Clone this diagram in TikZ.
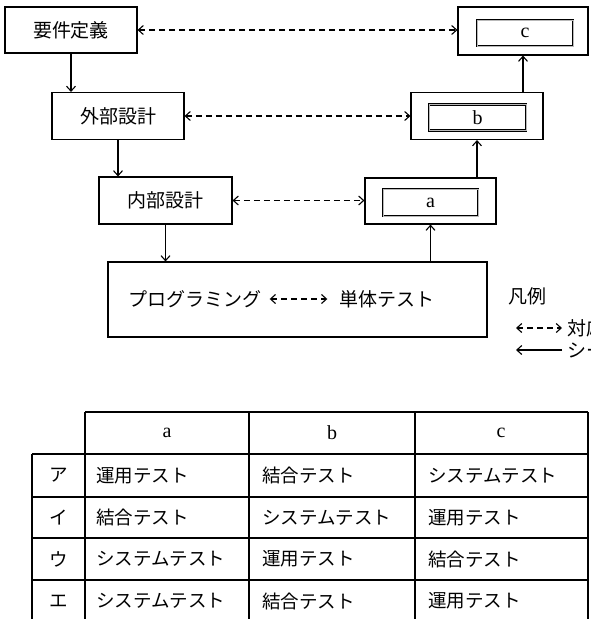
\documentclass[tikz,border=0pt]{standalone}
\usepackage{fontspec}
\newfontfamily\jp{Noto Sans CJK JP}
\newfontfamily\lat{Liberation Serif}
\usetikzlibrary{arrows.meta}
\tikzset{
  jptext/.style={font=\jp\fontsize{19}{22}\selectfont, inner sep=0pt},
  celltext/.style={font=\jp\fontsize{18.5}{22}\selectfont, inner sep=0pt},
  latintext/.style={font=\lat\fontsize{20}{22}\selectfont, inner sep=0pt},
  procbox/.style={draw, line width=1.1pt, rectangle, inner sep=0pt, font=\jp\fontsize{19}{22}\selectfont},
  innerbox/.style={draw=black, double=gray!55, double distance=0.9pt, line width=0.9pt, rectangle, inner sep=0pt, font=\lat\fontsize{20}{22}\selectfont},
  flow/.style={line width=1.1pt, -{Straight Barb[length=5pt,width=9pt,line width=1.1pt]}},
  corr/.style={line width=1.1pt, dash pattern=on 6pt off 4pt, {Straight Barb[length=5pt,width=9pt,line width=1.1pt]}-{Straight Barb[length=5pt,width=9pt,line width=1.1pt]}},
  grid/.style={line width=1.1pt},
}
\begin{document}
\begin{tikzpicture}[x=1pt,y=-1pt]
\useasboundingbox (0,0) rectangle (591,619);
\clip (0,0) rectangle (591,619);
\fill[white] (0,0) rectangle (591,619);
% process boxes
\node[procbox, minimum width=132pt, minimum height=46pt] (yk) at (71,30) {要件定義};
\node[procbox, minimum width=132pt, minimum height=47pt] (gb) at (118,116) {外部設計};
\node[procbox, minimum width=133pt, minimum height=47pt] (nb) at (165.5,200.5) {内部設計};
\node[procbox, minimum width=379pt, minimum height=75pt] (prog) at (297.5,299.5) {};
\node[jptext] (p1) at (195,299) {プログラミング};
\node[jptext] (p2) at (387,299) {単体テスト};
% test boxes
\node[procbox, minimum width=131pt, minimum height=46pt] (aout) at (430.5,201) {};
\node[innerbox, minimum width=95pt, minimum height=27pt] (ain) at (430.5,202.5) {a};
\node[procbox, minimum width=132pt, minimum height=47pt] (bout) at (477,116) {};
\node[innerbox, minimum width=97pt, minimum height=26pt] (bin) at (477.5,117.5) {b};
\node[procbox, minimum width=130pt, minimum height=48pt] (cout) at (523,31) {};
\node[innerbox, minimum width=96pt, minimum height=26pt] (cin) at (525,33) {c};
% flow arrows
\draw[flow] (yk.south) -- (yk.south |- gb.north);
\draw[flow] (gb.south) -- (gb.south |- nb.north);
\draw[flow] (nb.south) -- (nb.south |- prog.north);
\draw[flow] (aout.south |- prog.north) -- (aout.south);
\draw[flow] (bout.south |- aout.north) -- (bout.south);
\draw[flow] (cout.south |- bout.north) -- (cout.south);
% correspondence arrows
\draw[corr] (yk.east) -- (yk.east -| cout.west);
\draw[corr] (gb.east) -- (gb.east -| bout.west);
\draw[corr] (nb.east) -- (nb.east -| aout.west);
\draw[corr] ([xshift=8pt]p1.east) -- ([xshift=-12pt]p2.west);
% legend
\node[jptext] (hanrei) at (527,296) {凡例};
\coordinate (l1a) at (516,328);
\coordinate (l1b) at (562,328);
\draw[corr] (l1a) -- (l1b);
\node[jptext, anchor=west] (l1t) at (567,328) {対応関係};
\coordinate (l2a) at (516,350);
\coordinate (l2b) at (562,350);
\draw[flow] (l2b) -- (l2a);
\node[jptext, anchor=west] (l2t) at (567,350) {シーケンス};
% table
\draw[grid] (85,412) -- (588,412);
\draw[grid] (32,454) -- (588,454);
\draw[grid] (32,497) -- (588,497);
\draw[grid] (32,538) -- (588,538);
\draw[grid] (32,580) -- (588,580);
\draw[grid] (32,623) -- (588,623);
\draw[grid] (32,454) -- (32,623);
\draw[grid] (85,412) -- (85,623);
\draw[grid] (249,412) -- (249,623);
\draw[grid] (415,412) -- (415,623);
\draw[grid] (588,412) -- (588,623);
\node[latintext] (ha) at (167,433) {a};
\node[latintext] (hb) at (332,433) {b};
\node[latintext] (hc) at (501,433) {c};
\node[celltext] (r1) at (58.5,475.5) {ア};
\node[celltext] (r2) at (58.5,517.5) {イ};
\node[celltext] (r3) at (58.5,559) {ウ};
\node[celltext] (r4) at (58.5,601) {エ};
\node[celltext, anchor=west] (c11) at (96,475.5) {運用テスト};
\node[celltext, anchor=west] (c12) at (262,475.5) {結合テスト};
\node[celltext, anchor=west] (c13) at (428,475.5) {システムテスト};
\node[celltext, anchor=west] (c21) at (96,517.5) {結合テスト};
\node[celltext, anchor=west] (c22) at (262,517.5) {システムテスト};
\node[celltext, anchor=west] (c23) at (428,517.5) {運用テスト};
\node[celltext, anchor=west] (c31) at (96,559) {システムテスト};
\node[celltext, anchor=west] (c32) at (262,559) {運用テスト};
\node[celltext, anchor=west] (c33) at (428,559) {結合テスト};
\node[celltext, anchor=west] (c41) at (96,601) {システムテスト};
\node[celltext, anchor=west] (c42) at (262,601) {結合テスト};
\node[celltext, anchor=west] (c43) at (428,601) {運用テスト};
\end{tikzpicture}
\end{document}
